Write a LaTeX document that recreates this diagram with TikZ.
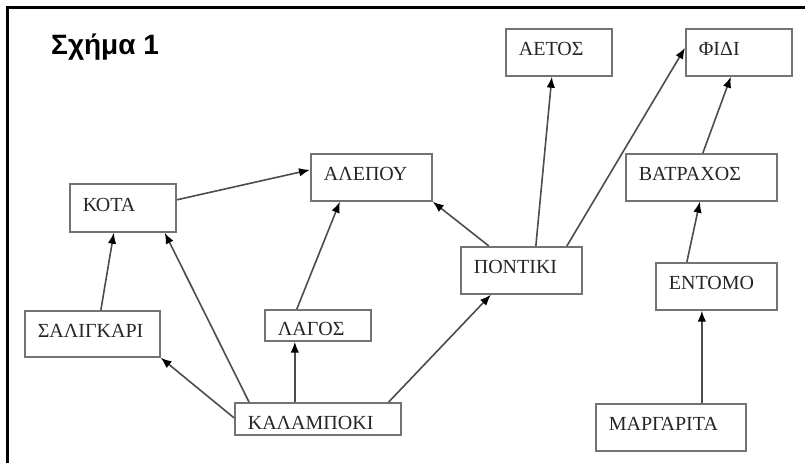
\documentclass[tikz,border=0pt]{standalone}
\usepackage{fontspec}
\setmainfont{Liberation Serif}
\newfontfamily\titlefont{Liberation Sans}
\usetikzlibrary{arrows.meta}

\begin{document}
\begin{tikzpicture}[x=1pt, y=-1pt,
		species/.style={draw=black!55, line width=1.7pt, anchor=north west, inner xsep=13pt, inner ysep=0pt, align=left, text=black!85, font=\fontsize{20}{22}\selectfont, text height=14pt, text depth=7pt},
		low/.style={text height=21pt, text depth=0pt},
		eats/.style={draw=black!70, line width=1.6pt, -{Latex[length=11pt,width=8.5pt,color=black]}}
		]
		\useasboundingbox (0,0) rectangle (805,463);
		\draw[line width=3pt] (7.5,463) -- (7.5,7.5) -- (805,7.5);
		\node[anchor=base west, inner sep=0pt, font=\titlefont\fontsize{28}{30}\selectfont\bfseries] (title) at (51,54) {Σχήμα 1};
		% food web
		\node[species, text width=80pt, minimum height=48pt] (kota) at (69,183) {ΚΟΤΑ};
		\node[species, text width=95pt, minimum height=47pt] (alepou) at (310,153) {ΑΛΕΠΟΥ};
		\node[species, text width=80pt, minimum height=47pt] (aetos) at (505,28) {ΑΕΤΟΣ};
		\node[species, text width=80pt, minimum height=47pt] (fidi) at (685,28) {ΦΙΔΙ};
		\node[species, text width=125pt, minimum height=47pt] (vatraxos) at (625,153) {ΒΑΤΡΑΧΟΣ};
		\node[species, text width=95pt, minimum height=47pt] (pontiki) at (460,246) {ΠΟΝΤΙΚΙ};
		\node[species, text width=95pt, minimum height=47pt] (entomo) at (655,262) {ΕΝΤΟΜΟ};
		\node[species, text width=124pt, minimum height=47pt] (margarita) at (595,403) {ΜΑΡΓΑΡΙΤΑ};
		\node[species, text width=109pt, minimum height=46pt] (saligkari) at (24,310) {ΣΑΛΙΓΚΑΡΙ};
		\node[species, low, text width=80pt, minimum height=31pt] (lagos) at (264,309) {ΛΑΓΟΣ};
		\node[species, low, text width=140pt, minimum height=32pt] (kalampoki) at (234,402) {ΚΑΛΑΜΠΟΚΙ};
		% arrows
		\draw[eats] ([yshift=8pt]kota.east) -- ([yshift=7.5pt]alepou.west);
		\draw[eats] ([xshift=-21pt]lagos.north) -- ([xshift=-31.5pt]alepou.south);
		\draw[eats] ([xshift=-32.5pt]pontiki.north) -- (alepou.south east);
		\draw[eats] ([xshift=14.5pt]pontiki.north) -- ([xshift=-7pt]aetos.south);
		\draw[eats] ([xshift=45.5pt]pontiki.north) -- ([yshift=4.5pt]fidi.west);
		\draw[eats] ([xshift=1.5pt]vatraxos.north) -- ([xshift=-8pt]fidi.south);
		\draw[eats] ([xshift=-29.5pt]entomo.north) -- ([xshift=-1.5pt]vatraxos.south);
		\draw[eats] ([xshift=31pt]margarita.north) -- ([xshift=-14.5pt]entomo.south);
		\draw[eats] ([xshift=8.5pt]saligkari.north) -- ([xshift=-9pt]kota.south);
		\draw[eats] ([xshift=15pt]kalampoki.north west) -- ([xshift=-12pt]kota.south east);
		\draw[eats] ([yshift=1pt]kalampoki.west) -- (saligkari.south east);
		\draw[eats] ([xshift=-23pt]kalampoki.north) -- ([xshift=-23pt]lagos.south);
		\draw[eats] ([xshift=-13pt]kalampoki.north east) -- ([xshift=-30.5pt]pontiki.south);
	\end{tikzpicture}
\end{document}
